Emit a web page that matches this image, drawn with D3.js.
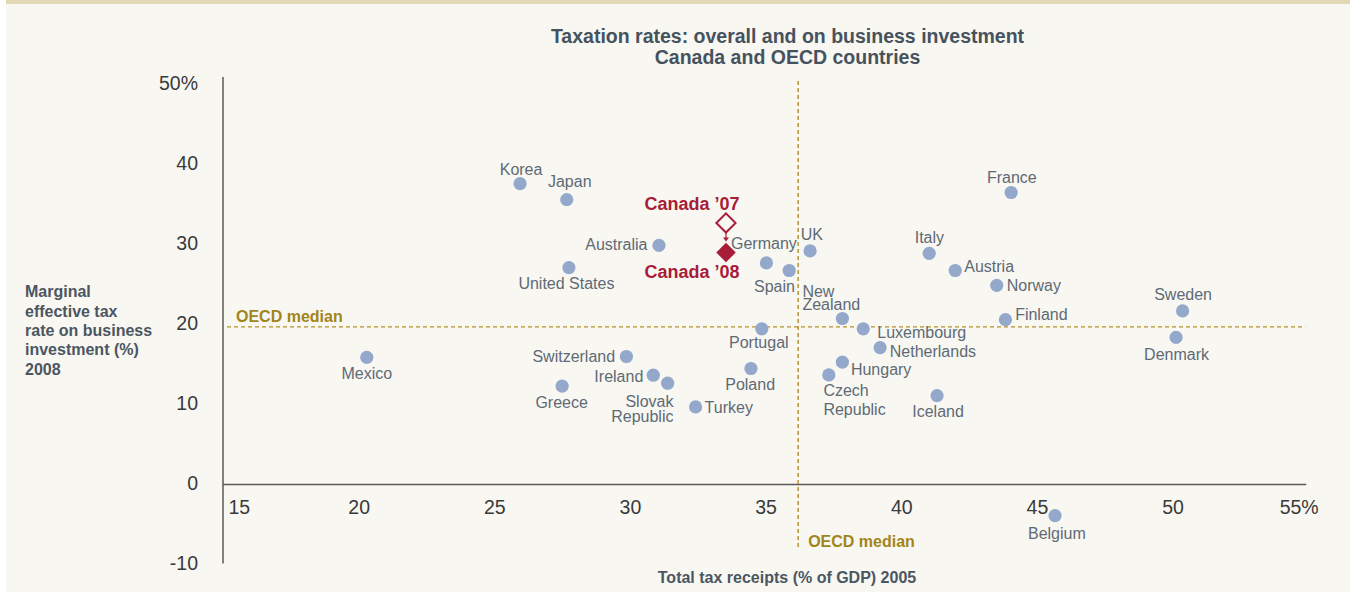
<!DOCTYPE html>
<html>
<head>
<meta charset="utf-8">
<script src="https://cdn.jsdelivr.net/npm/d3@7"></script>
<style>
html,body{margin:0;padding:0;background:#ffffff;}
svg{display:block;font-family:"Liberation Sans",Arial,Helvetica,sans-serif;}
</style>
</head>
<body>
<svg id="chart" width="1350" height="592"></svg>
<script>
// ---------- DATA ----------
const countries = ["Korea","Japan","Australia","United States","Germany","Spain","UK","New Zealand","Luxembourg","Netherlands","Portugal","Switzerland","Ireland","Slovak Republic","Greece","Poland","Hungary","Czech Republic","Mexico","Turkey","Italy","Austria","Norway","Finland","Sweden","Denmark","Iceland","France","Belgium"];
const taxReceipts = [25.95,27.67,31.07,27.75,35.03,35.87,36.64,37.83,38.6,39.22,34.86,29.87,30.86,31.39,27.5,34.46,37.83,37.33,20.3,32.42,41.03,41.99,43.52,43.84,50.37,50.13,41.32,44.05,45.67];
const metr = [37.6,35.6,29.9,27.1,27.7,26.75,29.2,20.75,19.46,17.1,19.46,16.0,13.66,12.66,12.3,14.5,15.3,13.7,15.9,9.7,28.9,26.75,24.9,20.6,21.7,18.4,11.1,36.5,-3.9];
const canadaLabels = ["Canada \u201907","Canada \u201908"];
const canadaReceipts = [33.54,33.54];
const canadaMetr = [32.7,29.0];
const medianReceipts = 36.2;
const medianMetr = 19.7;
const xTicks = [15,20,25,30,35,40,45,50,55];
const yTicks = [-10,0,10,20,30,40,50];
const titleLines = ["Taxation rates: overall and on business investment","Canada and OECD countries"];
const yTitleLines = ["Marginal","effective tax","rate on business","investment (%)","2008"];
const xTitle = "Total tax receipts (% of GDP) 2005";
const medianLabel = "OECD median";

// ---------- LABEL PLACEMENT (style) ----------
const labelPos = {
  "Korea":{a:"middle",dx:1,dy:[-14]},
  "Japan":{a:"middle",dx:3,dy:[-18.5]},
  "Australia":{a:"end",dx:-11.5,dy:[-0.5]},
  "United States":{a:"middle",dx:-2.5,dy:[16]},
  "Germany":{a:"middle",dx:-2.5,dy:[-19.4]},
  "Spain":{a:"end",dx:5.7,dy:[16]},
  "UK":{a:"middle",dx:1.8,dy:[-16.4]},
  "New Zealand":{a:"start",dx:-40,dy:[-27.5,-14],lines:["New","Zealand"]},
  "Luxembourg":{a:"start",dx:14,dy:[4]},
  "Netherlands":{a:"start",dx:9.7,dy:[3.4]},
  "Portugal":{a:"middle",dx:-3,dy:[13.4]},
  "Switzerland":{a:"end",dx:-11.3,dy:[-0.3]},
  "Ireland":{a:"end",dx:-10,dy:[1]},
  "Slovak Republic":{a:"end",dx:5.8,dy:[18,33.6],lines:["Slovak","Republic"]},
  "Greece":{a:"middle",dx:-0.5,dy:[16]},
  "Poland":{a:"middle",dx:-0.8,dy:[15.6]},
  "Hungary":{a:"start",dx:8.5,dy:[7.3]},
  "Czech Republic":{a:"start",dx:-5.4,dy:[15.3,34.5],lines:["Czech","Republic"]},
  "Mexico":{a:"middle",dx:0,dy:[16]},
  "Turkey":{a:"start",dx:9,dy:[0.5]},
  "Italy":{a:"middle",dx:0.2,dy:[-16.3]},
  "Austria":{a:"start",dx:9,dy:[-4.3]},
  "Norway":{a:"start",dx:10,dy:[0]},
  "Finland":{a:"start",dx:9.7,dy:[-5]},
  "Sweden":{a:"middle",dx:0.5,dy:[-16.7]},
  "Denmark":{a:"middle",dx:0.5,dy:[16.6]},
  "Iceland":{a:"middle",dx:1,dy:[15.7]},
  "France":{a:"middle",dx:0.7,dy:[-15]},
  "Belgium":{a:"middle",dx:1.8,dy:[17.4]}
};

// ---------- COLOURS ----------
const C = {
  panel:"#f8f7f2", band:"#e2d9b6", title:"#46525d", axisTitle:"#4b5661",
  tick:"#3a3a3a", axis:"#5a5a5a", dot:"#93a8cb", label:"#5f6a75",
  canada:"#a81c38", median:"#b39127", medianText:"#a2851a"
};

const svg = d3.select("#chart");
svg.append("rect").attr("x",6).attr("y",0).attr("width",1344).attr("height",592).attr("fill",C.panel);
svg.append("rect").attr("x",6).attr("y",0).attr("width",1344).attr("height",4).attr("fill",C.band);

const x = d3.scaleLinear().domain([15,55]).range([223,1308.2]);
const y = d3.scaleLinear().domain([-10,50]).range([564.5,84.5]);

// title
svg.append("g").selectAll("text").data(titleLines).join("text")
  .attr("x",787.5).attr("y",(d,i)=>36+i*21).attr("dy","0.35em")
  .attr("text-anchor","middle").attr("font-size","19.5px").attr("font-weight","bold")
  .attr("fill",C.title).text(d=>d);

// y axis title
svg.append("g").selectAll("text").data(yTitleLines).join("text")
  .attr("x",25).attr("y",(d,i)=>291.7+i*19.3).attr("dy","0.35em")
  .attr("font-size","16px").attr("font-weight","bold").attr("fill",C.axisTitle).text(d=>d);

// x axis title
svg.append("text").attr("x",787).attr("y",577).attr("dy","0.35em").attr("text-anchor","middle")
  .attr("font-size","16px").attr("font-weight","bold").attr("fill",C.axisTitle).text(xTitle);

// y axis ticks
const yAxis = d3.axisLeft(y).tickValues(yTicks).tickSize(0).tickPadding(0)
  .tickFormat(d=>d===50?"50%":String(d));
const gy = svg.append("g").attr("transform","translate(198,-1.5)").call(yAxis);
gy.select(".domain").remove();
gy.selectAll("text").attr("font-size","19.5px").attr("fill",C.tick)
  .attr("font-family","'Liberation Sans',Arial,sans-serif").attr("text-anchor","end").attr("x",0).attr("dy","0.35em");

// x axis ticks
const xAxis = d3.axisBottom(x).tickValues(xTicks).tickSize(0).tickPadding(0)
  .tickFormat(d=>d===55?"55%":String(d));
const gx = svg.append("g").attr("transform","translate(0,507)").call(xAxis);
gx.select(".domain").remove();
gx.selectAll("text").attr("font-size","19.5px").attr("fill",C.tick)
  .attr("font-family","'Liberation Sans',Arial,sans-serif").attr("y",0).attr("dy","0.35em")
  .attr("text-anchor",d=>d===15?"start":(d===55?"end":"middle"))
  .attr("x",d=>d===15?5:(d===55?10:0));

// axis lines
svg.append("line").attr("x1",x(15)).attr("x2",x(15)).attr("y1",77).attr("y2",y(-10)-1)
  .attr("stroke",C.axis).attr("stroke-width",1.5);
svg.append("line").attr("x1",x(15)).attr("x2",x(55)-2).attr("y1",y(0)).attr("y2",y(0))
  .attr("stroke",C.axis).attr("stroke-width",1.5);

// median lines
svg.append("line").attr("x1",x(15)+4).attr("x2",x(55)-3).attr("y1",y(medianMetr)).attr("y2",y(medianMetr))
  .attr("stroke",C.median).attr("stroke-width",1.4).attr("stroke-dasharray","4,3");
svg.append("line").attr("x1",x(medianReceipts)).attr("x2",x(medianReceipts)).attr("y1",81).attr("y2",547)
  .attr("stroke",C.median).attr("stroke-width",1.4).attr("stroke-dasharray","4,3");
svg.append("text").attr("x",x(15)+13).attr("y",y(medianMetr)-11).attr("dy","0.35em")
  .attr("font-size","16px").attr("font-weight","bold").attr("fill",C.medianText).text(medianLabel);
svg.append("text").attr("x",x(medianReceipts)+10).attr("y",541.7).attr("dy","0.35em")
  .attr("font-size","16px").attr("font-weight","bold").attr("fill",C.medianText).text(medianLabel);

// points
const pts = countries.map((c,i)=>({name:c,x:taxReceipts[i],y:metr[i]}));
svg.append("g").selectAll("circle").data(pts).join("circle")
  .attr("cx",d=>x(d.x)).attr("cy",d=>y(d.y)).attr("r",6.6).attr("fill",C.dot);

// labels
const lg = svg.append("g").attr("font-size","16px").attr("fill",C.label);
pts.forEach(p=>{
  const L = labelPos[p.name];
  const lines = L.lines || [p.name];
  lines.forEach((t,j)=>{
    lg.append("text").attr("x",x(p.x)+L.dx).attr("y",y(p.y)+L.dy[j]).attr("dy","0.35em")
      .attr("text-anchor",L.a).text(t);
  });
});

// Canada
const diamond = d3.symbol().type(d3.symbolSquare).size(184);
const cg = svg.append("g");
cg.append("path").attr("d",diamond())
  .attr("transform",`translate(${x(canadaReceipts[0])},${y(canadaMetr[0])}) rotate(45)`)
  .attr("fill",C.panel).attr("stroke",C.canada).attr("stroke-width",2);
cg.append("path").attr("d",d3.symbol().type(d3.symbolSquare).size(190)())
  .attr("transform",`translate(${x(canadaReceipts[1])},${y(canadaMetr[1])}) rotate(45)`)
  .attr("fill",C.canada);
// arrow
const ax = x(canadaReceipts[0]);
const ay1 = y(canadaMetr[0])+10, ay2 = y(canadaMetr[1])-11;
cg.append("line").attr("x1",ax).attr("x2",ax).attr("y1",ay1).attr("y2",ay2-3)
  .attr("stroke",C.canada).attr("stroke-width",1.2);
cg.append("path").attr("d",`M${ax-3},${ay2-4}L${ax+3},${ay2-4}L${ax},${ay2}Z`).attr("fill",C.canada);
// labels
cg.append("text").attr("x",x(canadaReceipts[0])+13.5).attr("y",y(canadaMetr[0])-19.3).attr("dy","0.35em")
  .attr("text-anchor","end").attr("font-size","18px").attr("font-weight","bold").attr("fill",C.canada).text(canadaLabels[0]);
cg.append("text").attr("x",x(canadaReceipts[1])+13.5).attr("y",y(canadaMetr[1])+19.5).attr("dy","0.35em")
  .attr("text-anchor","end").attr("font-size","18px").attr("font-weight","bold").attr("fill",C.canada).text(canadaLabels[1]);
</script>
</body>
</html>
